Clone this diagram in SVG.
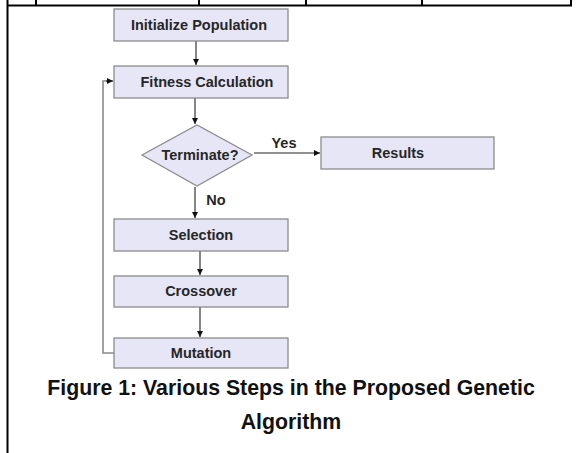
<svg xmlns="http://www.w3.org/2000/svg" width="581" height="453" viewBox="0 0 581 453">
<style>
.tbl{stroke:#000;stroke-width:2;fill:none}
.box{fill:#e6e6f7;stroke:#8c8c8c;stroke-width:1.3}
.lbl{font-family:"Liberation Sans",Arial,sans-serif;font-weight:bold;font-size:14.5px;fill:#262626;text-anchor:middle}
.edge{stroke:#222;stroke-width:1.1;fill:none;marker-end:url(#ah)}
.fb{stroke:#8a8a8a;stroke-width:1.6;fill:none}
.cap{font-family:"Liberation Sans",Arial,sans-serif;font-weight:bold;font-size:21.3px;fill:#111;text-anchor:middle}
</style>
<defs>
<marker id="ah" viewBox="0 0 10 10" refX="10" refY="5" markerWidth="6" markerHeight="6" markerUnits="userSpaceOnUse" orient="auto">
<path d="M0,0 L10,5 L0,10 z" fill="#111"/>
</marker>
</defs>
<rect x="0" y="0" width="581" height="453" fill="#fff"/>
<g id="table">
<line class="tbl" x1="7" y1="5.5" x2="572" y2="5.5"/>
<line class="tbl" x1="7.5" y1="0" x2="7.5" y2="453"/>
<line class="tbl" x1="36" y1="0" x2="36" y2="5"/>
<line class="tbl" x1="199" y1="0" x2="199" y2="5"/>
<line class="tbl" x1="306" y1="0" x2="306" y2="5"/>
<line class="tbl" x1="422" y1="0" x2="422" y2="5"/>
<line class="tbl" x1="571" y1="0" x2="571" y2="5"/>
</g>
<g id="connectors">
<line class="edge" x1="196" y1="41" x2="196" y2="65"/>
<line class="edge" x1="195" y1="98" x2="195" y2="124"/>
<line class="edge" x1="254" y1="153" x2="320" y2="153"/>
<line class="edge" x1="195" y1="187" x2="195" y2="218"/>
<line class="edge" x1="200" y1="251" x2="200" y2="275"/>
<line class="edge" x1="200" y1="307" x2="200" y2="337"/>
<polyline class="fb" points="114,353 103,353 103,81 108,81"/>
<line class="edge" x1="106" y1="81" x2="113" y2="81"/>
<text class="lbl" x="284" y="148" font-size="13.5">Yes</text>
<text class="lbl" x="216" y="205" font-size="13.5">No</text>
</g>
<g id="init">
<rect class="box" x="114" y="9" width="174" height="32"/>
<text class="lbl" x="199" y="30">Initialize Population</text>
</g>
<g id="fitness">
<rect class="box" x="114" y="66" width="174" height="32"/>
<text class="lbl" x="207" y="87">Fitness Calculation</text>
</g>
<g id="terminate">
<polygon class="box" points="142,155 197,125 252,155 197,186"/>
<text class="lbl" x="200" y="160">Terminate?</text>
</g>
<g id="results">
<rect class="box" x="321" y="137" width="173" height="32"/>
<text class="lbl" x="398" y="158">Results</text>
</g>
<g id="selection">
<rect class="box" x="114" y="219" width="174" height="32"/>
<text class="lbl" x="201" y="240">Selection</text>
</g>
<g id="crossover">
<rect class="box" x="114" y="276" width="174" height="31"/>
<text class="lbl" x="201" y="296">Crossover</text>
</g>
<g id="mutation">
<rect class="box" x="114" y="338" width="174" height="30"/>
<text class="lbl" x="201" y="358">Mutation</text>
</g>
<g id="caption">
<text class="cap" x="291" y="395">Figure 1: Various Steps in the Proposed Genetic</text>
<text class="cap" x="291" y="429">Algorithm</text>
</g>
</svg>
